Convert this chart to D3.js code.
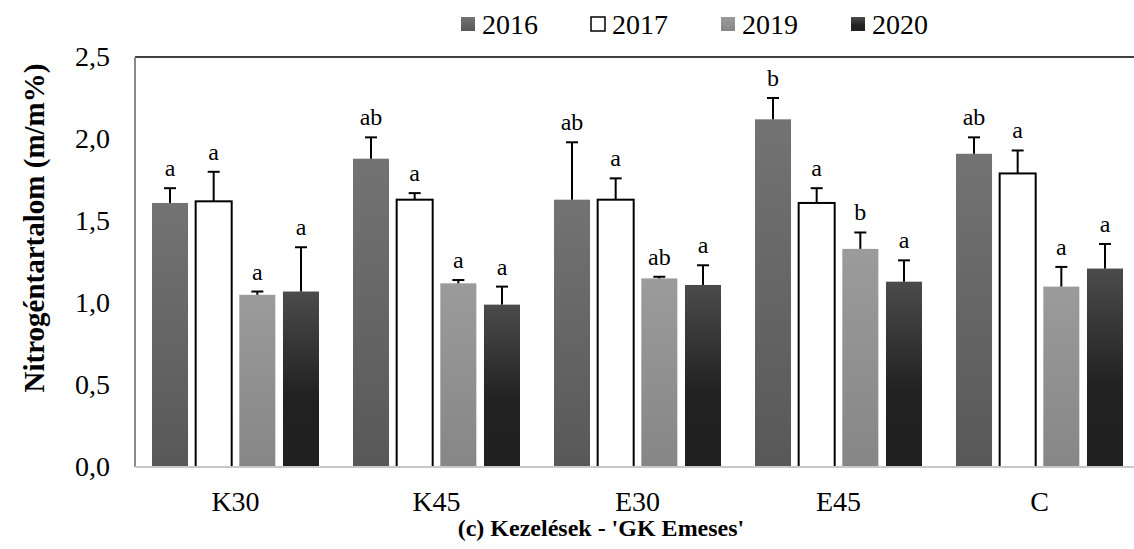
<!DOCTYPE html>
<html>
<head>
<meta charset="utf-8">
<script src="https://cdn.jsdelivr.net/npm/d3@7"></script>
<style>
  body { margin: 0; background: #fff; }
  svg text { font-family: 'Times New Roman', 'Liberation Serif', Times, 'DejaVu Serif', serif; }
</style>
</head>
<body>
<svg id="chart" width="1134" height="549"></svg>
<script>
const categories = ['K30', 'K45', 'E30', 'E45', 'C'];
const years = ['2016', '2017', '2019', '2020'];

// mean values per year (same order as categories)
const values2016 = [1.61, 1.88, 1.63, 2.12, 1.91];
const values2017 = [1.62, 1.63, 1.63, 1.61, 1.79];
const values2019 = [1.05, 1.12, 1.15, 1.33, 1.10];
const values2020 = [1.07, 0.99, 1.11, 1.13, 1.21];

// error bar (upper only)
const err2016 = [0.09, 0.13, 0.35, 0.13, 0.10];
const err2017 = [0.18, 0.04, 0.13, 0.09, 0.14];
const err2019 = [0.02, 0.02, 0.01, 0.10, 0.12];
const err2020 = [0.27, 0.11, 0.12, 0.13, 0.15];

// significance letters
const letters2016 = ['a', 'ab', 'ab', 'b', 'ab'];
const letters2017 = ['a', 'a', 'a', 'a', 'a'];
const letters2019 = ['a', 'a', 'ab', 'b', 'a'];
const letters2020 = ['a', 'a', 'a', 'a', 'a'];

const yTicks = [0, 0.5, 1.0, 1.5, 2.0, 2.5];

const series = [
  { year: '2016', values: values2016, err: err2016, letters: letters2016 },
  { year: '2017', values: values2017, err: err2017, letters: letters2017 },
  { year: '2019', values: values2019, err: err2019, letters: letters2019 },
  { year: '2020', values: values2020, err: err2020, letters: letters2020 }
];

const svg = d3.select('#chart');
const plot = { left: 135, right: 1140, top: 57, bottom: 467 };

// gradients, one per coloured series
const defs = svg.append('defs');
const gradStops = {
  '2016': [[0, '#737373'], [1, '#585858']],
  '2019': [[0, '#9b9b9b'], [1, '#868686']],
  '2020': [[0, '#4b4b4b'], [0.6, '#212121'], [1, '#202020']]
};
Object.keys(gradStops).forEach(k => {
  const g = defs.append('linearGradient')
    .attr('id', 'g' + k)
    .attr('x1', 0).attr('y1', 0).attr('x2', 0).attr('y2', 1);
  gradStops[k].forEach(s => g.append('stop').attr('offset', s[0]).attr('stop-color', s[1]));
});
const fillFor = y => (y === '2017' ? '#ffffff' : `url(#g${y})`);

const x0 = d3.scaleBand().domain(categories).range([plot.left, plot.right]).padding(0);
const x1 = d3.scaleBand().domain(years).range([17, x0.bandwidth() - 17]).paddingInner(0.175);
const y = d3.scaleLinear().domain([0, 2.5]).range([plot.bottom, plot.top]);

// frame
svg.append('line')
  .attr('x1', plot.left).attr('x2', 1134)
  .attr('y1', y(2.5)).attr('y2', y(2.5))
  .attr('stroke', '#404040').attr('stroke-width', 2);
svg.append('line')
  .attr('x1', plot.left).attr('x2', plot.left)
  .attr('y1', y(2.5)).attr('y2', y(0))
  .attr('stroke', '#8a8a8a').attr('stroke-width', 2);

// y axis labels
const yAxis = svg.append('g')
  .attr('transform', `translate(${plot.left},0)`)
  .call(d3.axisLeft(y).tickValues(yTicks).tickSize(0).tickPadding(25)
    .tickFormat(d => d.toFixed(1).replace('.', ',')));
yAxis.select('.domain').remove();
yAxis.attr('font-family', null);
yAxis.selectAll('text')
  .attr('font-size', 28).attr('fill', '#000');

// bars
const groups = svg.append('g').selectAll('g')
  .data(categories)
  .join('g')
  .attr('transform', d => `translate(${x0(d)},0)`);

const cells = groups.selectAll('g.cell')
  .data((c, ci) => series.map(s => ({
    year: s.year, value: s.values[ci], err: s.err[ci], letter: s.letters[ci]
  })))
  .join('g').attr('class', 'cell');

cells.append('rect')
  .attr('x', d => x1(d.year))
  .attr('y', d => y(d.value))
  .attr('width', x1.bandwidth())
  .attr('height', d => y(0) - y(d.value))
  .attr('fill', d => fillFor(d.year))
  .attr('stroke', d => (d.year === '2017' ? '#000' : 'none'))
  .attr('stroke-width', 2);

const cx = d => x1(d.year) + x1.bandwidth() / 2;
cells.append('line')
  .attr('x1', cx).attr('x2', cx)
  .attr('y1', d => y(d.value)).attr('y2', d => y(d.value + d.err))
  .attr('stroke', '#000').attr('stroke-width', 2);
cells.append('line')
  .attr('x1', d => cx(d) - 6).attr('x2', d => cx(d) + 6)
  .attr('y1', d => y(d.value + d.err)).attr('y2', d => y(d.value + d.err))
  .attr('stroke', '#000').attr('stroke-width', 2);
cells.append('text')
  .attr('x', cx)
  .attr('y', d => y(d.value + d.err) - 12)
  .attr('text-anchor', 'middle')
  .attr('font-size', 24)
  .text(d => d.letter);

// x axis line
svg.append('line')
  .attr('x1', plot.left).attr('x2', 1134)
  .attr('y1', y(0)).attr('y2', y(0))
  .attr('stroke', '#c8c8c8').attr('stroke-width', 2);

const xAxis = svg.append('g')
  .attr('transform', `translate(0,${y(0)})`)
  .call(d3.axisBottom(x0).tickSize(0).tickPadding(24));
xAxis.select('.domain').remove();
xAxis.attr('font-family', null);
xAxis.selectAll('text')
  .attr('font-size', 28).attr('fill', '#000');

// axis titles
svg.append('text')
  .attr('x', 601)
  .attr('y', 536)
  .attr('text-anchor', 'middle')
  .attr('font-size', 24).attr('font-weight', 'bold')
  .text("(c) Kezelések - 'GK Emeses'");

svg.append('text')
  .attr('transform', 'translate(44,228) rotate(-90)')
  .attr('text-anchor', 'middle')
  .attr('font-size', 29).attr('font-weight', 'bold')
  .text('Nitrogéntartalom (m/m%)');

// legend
const legend = svg.append('g').selectAll('g')
  .data(years)
  .join('g')
  .attr('transform', (d, i) => `translate(${461 + i * 130},17)`);
legend.append('rect')
  .attr('width', 14).attr('height', 14)
  .attr('fill', d => fillFor(d))
  .attr('stroke', d => (d === '2017' ? '#000' : 'none'))
  .attr('stroke-width', 1.5);
legend.append('text')
  .attr('x', 21).attr('y', 17)
  .attr('font-size', 28)
  .text(d => d);
</script>
</body>
</html>
